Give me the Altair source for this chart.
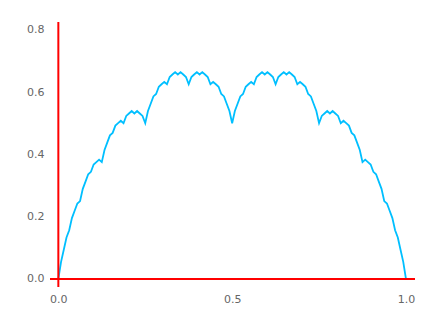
import altair as alt
import pandas as pd

# Blancmange-like curve values read at x = k/128, k = 0..128
y_left = [0.0, 0.0547, 0.0938, 0.1328, 0.1563, 0.1953, 0.2188, 0.2422, 0.25,
          0.2891, 0.3125, 0.3359, 0.3438, 0.3672, 0.375, 0.3828, 0.375,
          0.4141, 0.4375, 0.4609, 0.4688, 0.4922, 0.5, 0.5078, 0.5,
          0.5234, 0.5313, 0.5391, 0.5313, 0.5391, 0.5313, 0.5234, 0.5,
          0.5391, 0.5625, 0.5859, 0.5938, 0.6172, 0.625, 0.6328, 0.625,
          0.6484, 0.6563, 0.6641, 0.6563, 0.6641, 0.6563, 0.6484, 0.625,
          0.6484, 0.6563, 0.6641, 0.6563, 0.6641, 0.6563, 0.6484, 0.625,
          0.6328, 0.625, 0.6172, 0.5938, 0.5859, 0.5625, 0.5391, 0.5]
y_values = y_left + y_left[-2::-1]
x_values = [k / 128 for k in range(len(y_values))]

x_ticks = [0.0, 0.5, 1.0]
y_ticks = [0.0, 0.2, 0.4, 0.6, 0.8]

x_dom = [-0.024, 1.026]
y_dom = [-0.026, 0.825]

df = pd.DataFrame({"x": x_values, "y": y_values})

xs = alt.Scale(domain=x_dom, nice=False, zero=False)
ys = alt.Scale(domain=y_dom, nice=False, zero=False)

axis_common = dict(domain=False, ticks=False, grid=False, labelPadding=6,
                   labelFont="DejaVu Sans", labelFontSize=11, labelColor="#666666",
                   title=None, format=".1f")

line = alt.Chart(df).mark_line(color="#00BFFF", strokeWidth=1.8).encode(
    x=alt.X("x:Q", scale=xs, axis=alt.Axis(values=x_ticks, **axis_common)),
    y=alt.Y("y:Q", scale=ys, axis=alt.Axis(values=y_ticks, **axis_common)),
)

axes_df = pd.DataFrame({"x": [0.0], "y": [0.0], "x1": [x_dom[0]], "x2": [x_dom[1]],
                        "y1": [y_dom[0]], "y2": [y_dom[1]]})

vrule = alt.Chart(axes_df).mark_rule(color="#FF0000", strokeWidth=2).encode(
    x=alt.X("x:Q", scale=xs), y=alt.Y("y1:Q", scale=ys), y2="y2:Q")
hrule = alt.Chart(axes_df).mark_rule(color="#FF0000", strokeWidth=2).encode(
    y=alt.Y("y:Q", scale=ys), x=alt.X("x1:Q", scale=xs), x2="x2:Q")

chart = alt.layer(line, vrule, hrule).properties(
    width=365, height=265,
    autosize=alt.AutoSizeParams(type="none"),
    padding={"left": 42, "top": 14, "right": 12, "bottom": 28},
).configure_view(stroke=None)

chart.save("out.html", embed_options={"renderer": "svg", "actions": False})
